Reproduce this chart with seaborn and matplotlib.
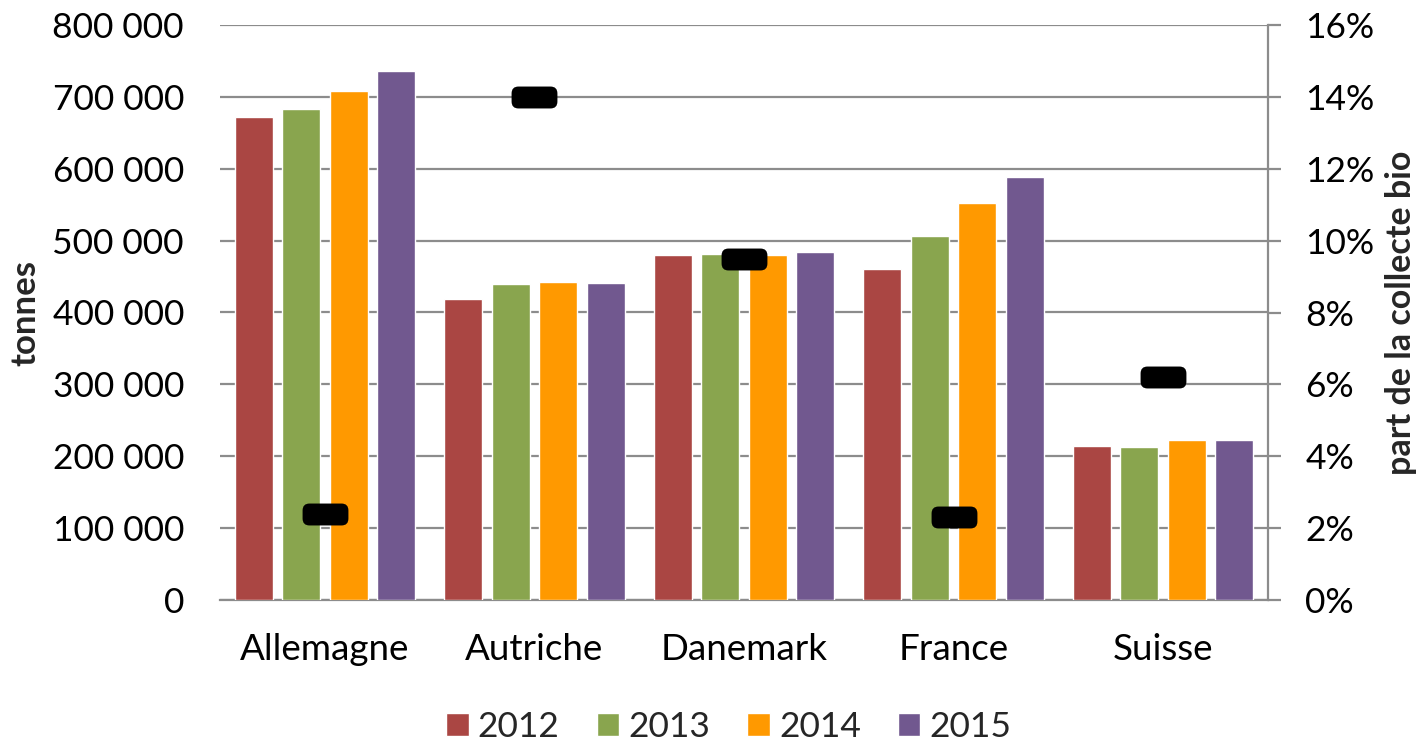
import numpy as np
import pandas as pd
import matplotlib
matplotlib.use("Agg")
import matplotlib.pyplot as plt
from matplotlib.path import Path
from matplotlib.ticker import FuncFormatter, PercentFormatter
import seaborn as sns

countries = ["Allemagne", "Autriche", "Danemark", "France", "Suisse"]
years = ["2012", "2013", "2014", "2015"]
t2012 = [672000, 419000, 479500, 461000, 214000]
t2013 = [683000, 439000, 482000, 507000, 213000]
t2014 = [708000, 442000, 480000, 552000, 222000]
t2015 = [736000, 441000, 484000, 589000, 223000]
share_bio = [0.024, 0.140, 0.095, 0.023, 0.062]
colors = ["#AA4643", "#89A54E", "#FF9900", "#71588F"]

sns.set_style("white")
plt.rcParams["font.family"] = ["Lato", "DejaVu Sans"]

rows = []
for yr, vals in zip(years, [t2012, t2013, t2014, t2015]):
    for c, v in zip(countries, vals):
        rows.append({"pays": c, "annee": yr, "tonnes": v})
df = pd.DataFrame(rows)

fig = plt.figure(figsize=(14.18, 7.42), dpi=100)
ax = fig.add_axes([220 / 1418, 1 - 600 / 742, (1268 - 220) / 1418, (600 - 25) / 742])

sns.barplot(data=df, x="pays", y="tonnes", hue="annee", palette=colors,
            width=0.906, gap=0.2, ax=ax, saturation=1, zorder=3)
leg = ax.get_legend()
handles = leg.legend_handles
labels = [t.get_text() for t in leg.texts]
leg.remove()

grid_c = "#8c8c8c"
ax.set_ylim(0, 800000)
ax.set_yticks(np.arange(0, 800001, 100000))
ax.yaxis.set_major_formatter(FuncFormatter(lambda v, p: f"{v:,.0f}".replace(",", " ")))
ax.grid(axis="y", color=grid_c, linewidth=1.6, zorder=0)
ax.set_axisbelow(True)
for s in ["top", "left", "right"]:
    ax.spines[s].set_visible(False)
ax.spines["bottom"].set_color(grid_c)
ax.spines["bottom"].set_linewidth(1.6)
ax.tick_params(axis="y", length=0, pad=26, labelsize=25.5, labelcolor="black")
ax.tick_params(axis="x", length=0, pad=24, labelsize=26.5, labelcolor="black")
ax.set_xlabel("")
ax.set_ylabel("tonnes", fontsize=25, fontweight="bold")
ax.yaxis.set_label_coords(-0.170, 0.5)

ax2 = ax.twinx()
a, b, r = 1.0, 22 / 46, 0.3
verts = [(-a + r, -b), (a - r, -b), (a, -b), (a, -b + r), (a, b - r), (a, b), (a - r, b),
         (-a + r, b), (-a, b), (-a, b - r), (-a, -b + r), (-a, -b), (-a + r, -b), (-a + r, -b)]
codes = [Path.MOVETO, Path.LINETO, Path.CURVE3, Path.CURVE3, Path.LINETO, Path.CURVE3, Path.CURVE3,
         Path.LINETO, Path.CURVE3, Path.CURVE3, Path.LINETO, Path.CURVE3, Path.CURVE3, Path.CLOSEPOLY]
pill = Path(verts, codes)
ax2.plot(np.arange(len(countries)), share_bio, ls="none", marker=pill, ms=33,
         color="black", mew=0, zorder=5)
ax2.set_ylim(0, 0.16)
ax2.set_yticks(np.arange(0, 0.161, 0.02))
ax2.yaxis.set_major_formatter(PercentFormatter(1.0, decimals=0))
for s in ["top", "left", "bottom"]:
    ax2.spines[s].set_visible(False)
ax2.spines["right"].set_color(grid_c)
ax2.spines["right"].set_linewidth(1.6)
ax2.tick_params(axis="y", length=9, width=1.6, color=grid_c, pad=18, labelsize=25.5,
                labelcolor="black", direction="out")
ax2.set_ylabel("part de la collecte bio", fontsize=24.5, fontweight="bold")
ax2.yaxis.set_label_coords(1.112, 0.5)
ax.set_xlim(-0.5, len(countries) - 0.5)

fig.legend(handles, labels, loc="center", bbox_to_anchor=(0.514, 0.02), ncol=4,
           frameon=False, fontsize=25.5, handlelength=0.63, handleheight=0.63,
           handletextpad=0.26, columnspacing=1.05)

fig.savefig("out.png", dpi=100)
